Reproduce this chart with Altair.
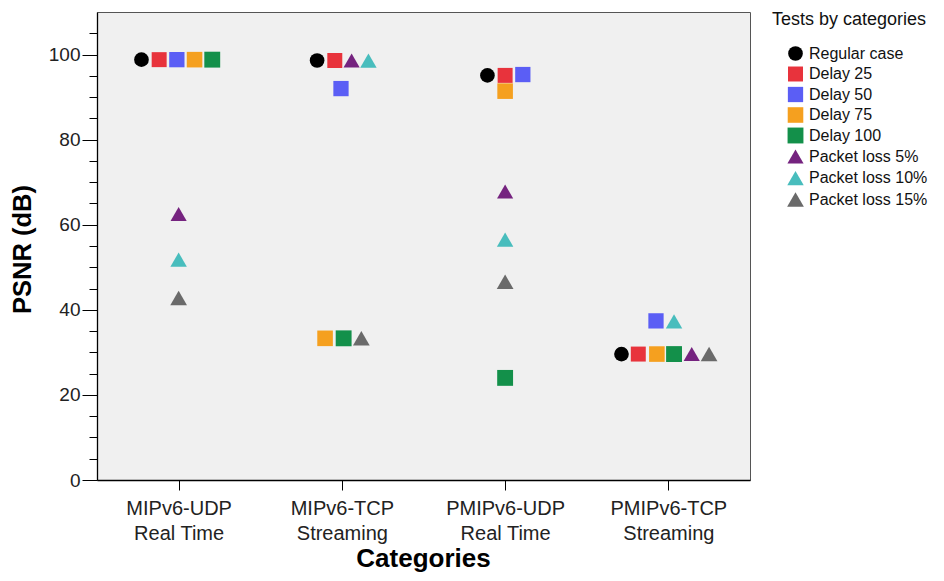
import altair as alt
import pandas as pd

# ---- data ----
categories = ["MIPv6-UDP Real Time", "MIPv6-TCP Streaming", "PMIPv6-UDP Real Time", "PMIPv6-TCP Streaming"]
cat_lines = [["MIPv6-UDP", "Real Time"], ["MIPv6-TCP", "Streaming"],
             ["PMIPv6-UDP", "Real Time"], ["PMIPv6-TCP", "Streaming"]]
tests = ["Regular case", "Delay 25", "Delay 50", "Delay 75", "Delay 100",
         "Packet loss 5%", "Packet loss 10%", "Packet loss 15%"]
colors = ["#000000", "#E8333C", "#5B5EF5", "#F5A01F", "#13904A", "#75237F", "#48BDBD", "#6A6A6A"]
shapes = ["circle", "square", "square", "square", "square", "triangle-up", "triangle-up", "triangle-up"]
sizes = [215, 280, 280, 280, 280, 280, 280, 280]

# PSNR values per category, in the order of `tests`
psnr_mipv6_udp = [98.8, 98.8, 98.8, 98.8, 98.8, 62.5, 51.8, 42.8]
psnr_mipv6_tcp = [98.6, 98.6, 92.0, 33.3, 33.3, 98.6, 98.6, 33.3]
psnr_pmipv6_udp = [95.1, 95.1, 95.3, 91.4, 24.0, 67.8, 56.5, 46.6]
psnr_pmipv6_tcp = [29.6, 29.6, 37.4, 29.6, 29.6, 29.6, 37.3, 29.6]

# side-by-side slot of each symbol where values coincide (dot-plot stacking)
slot_mipv6_udp = [-2.1, -1.1, -0.1, 0.9, 1.9, 0, 0, 0]
slot_mipv6_tcp = [-1.4, -0.4, -0.05, -0.95, 0.1, 0.55, 1.5, 1.1]
slot_pmipv6_udp = [-1, 0, 1, 0, 0, 0, 0, 0]
slot_pmipv6_tcp = [-2.65, -1.7, -0.7, -0.65, 0.32, 1.32, 0.32, 2.3]

psnr_all = [psnr_mipv6_udp, psnr_mipv6_tcp, psnr_pmipv6_udp, psnr_pmipv6_tcp]
slot_all = [slot_mipv6_udp, slot_mipv6_tcp, slot_pmipv6_udp, slot_pmipv6_tcp]

rows = []
for ci, cat in enumerate(categories):
    for ti, t in enumerate(tests):
        rows.append({"category": cat, "cat_idx": ci, "test": t,
                     "psnr": psnr_all[ci][ti], "slot": slot_all[ci][ti]})
df = pd.DataFrame(rows)

label_expr = "[" + ",".join("['%s','%s']" % (a, b) for a, b in cat_lines) + "][datum.value]"

SANS = "Liberation Sans"

chart = (
    alt.Chart(df)
    .transform_calculate(xpos="datum.cat_idx + datum.slot * 0.1084")
    .mark_point(filled=True, opacity=1, strokeWidth=0)
    .encode(
        x=alt.X(
            "xpos:Q",
            scale=alt.Scale(domain=[-0.5, 3.5], nice=False, zero=False),
            axis=alt.Axis(
                values=[0, 1, 2, 3],
                labelExpr=label_expr,
                title="Categories",
                grid=False,
                tickSize=10,
                labelPadding=8,
                labelFont=SANS,
                labelFontSize=20,
                labelLineHeight=25,
                labelColor="#222222",
                titleFont=SANS,
                titleFontSize=26,
                titleFontWeight="bold",
                titleColor="#000000",
                titleX=326,
                titleY=78,
                titleBaseline="middle",
                titleAlign="center",
                domainColor="#000000",
                domainWidth=1.3,
                tickColor="#000000",
            ),
        ),
        y=alt.Y(
            "psnr:Q",
            scale=alt.Scale(domain=[0, 110], nice=False),
            axis=alt.Axis(
                values=list(range(0, 110, 5)),
                labelExpr="datum.value % 20 === 0 ? datum.label : ''",
                title="PSNR (dB)",
                grid=False,
                tickSize={"condition": {"test": "datum.value % 20 === 0", "value": 15}, "value": 8},
                labelPadding=2,
                labelFont=SANS,
                labelFontSize=19,
                labelColor="#222222",
                titleFont=SANS,
                titleFontSize=25.5,
                titleFontWeight="bold",
                titleColor="#000000",
                titleAngle=270,
                titleX=-75,
                titleY=237,
                titleBaseline="middle",
                titleAlign="center",
                domainColor="#000000",
                domainWidth=1.3,
                tickColor="#000000",
            ),
        ),
        color=alt.Color(
            "test:N",
            scale=alt.Scale(domain=tests, range=colors),
            legend=alt.Legend(title="Tests by categories"),
        ),
        shape=alt.Shape(
            "test:N",
            scale=alt.Scale(domain=tests, range=shapes),
            legend=alt.Legend(title="Tests by categories"),
        ),
        size=alt.Size("test:N", scale=alt.Scale(domain=tests, range=sizes), legend=None),
    )
    .properties(
        width=653,
        height=468,
        autosize=alt.AutoSizeParams(type="none"),
        padding={"left": 89, "top": 4, "right": 186, "bottom": 93},
        background="#FFFFFF",
    )
    .configure_view(fill="#F0F0F0", stroke="#555555", strokeWidth=1)
    .configure_legend(
        orient="none",
        legendX=675,
        legendY=-1,
        titleFont=SANS,
        titleFontSize=18,
        titleFontWeight="normal",
        titleColor="#111111",
        titlePadding=16.5,
        labelFont=SANS,
        labelFontSize=16,
        labelColor="#111111",
        labelOffset=5,
        symbolSize=240,
        symbolOffset=15,
        symbolStrokeWidth=0,
        symbolOpacity=1,
        rowPadding=4.5,
        padding=0,
    )
)

chart.save("out.html", embed_options={"renderer": "svg", "actions": False})
